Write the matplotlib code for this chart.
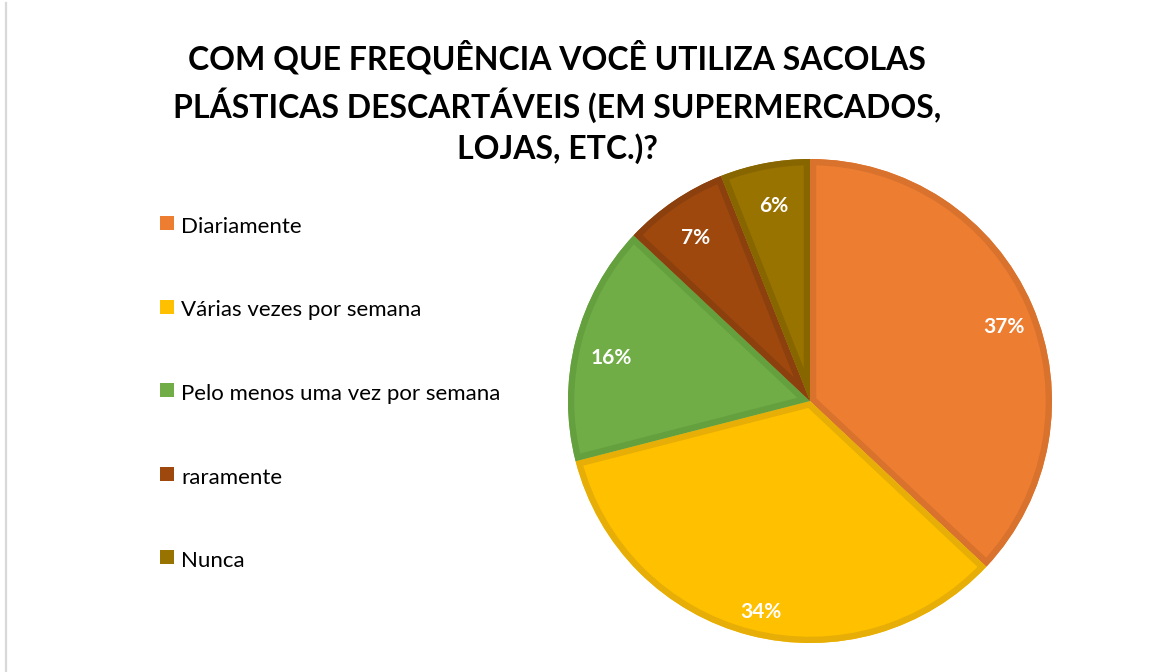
import matplotlib
matplotlib.use("Agg")
import matplotlib.pyplot as plt
from matplotlib.patches import Rectangle, PathPatch
from matplotlib.lines import Line2D
from matplotlib.transforms import offset_copy

categories = ["Diariamente", "Várias vezes por semana", "Pelo menos uma vez por semana",
              "raramente", "Nunca"]
values = [37, 34, 16, 7, 6]
colors = ["#ED7D31", "#FFC000", "#70AD47", "#9E480E", "#997300"]
edge_colors = ["#D8722D", "#E6AE06", "#64A03E", "#8C400D", "#876600"]
title = "COM QUE FREQUÊNCIA VOCÊ UTILIZA SACOLAS\nPLÁSTICAS DESCARTÁVEIS (EM SUPERMERCADOS,\nLOJAS, ETC.)?"

W, H = 1153, 672
fig = plt.figure(figsize=(W / 100, H / 100), dpi=100)
fig.patch.set_facecolor("white")

# left border line
fig.add_artist(Line2D([5.5 / W, 5.5 / W], [0, 1 - 3 / H], color="#D9D9D9", lw=1.6))

# title
fig.text(557 / W, 1 - 102 / H, title, ha="center", va="center", fontsize=23,
         fontweight="bold", family="Lato", linespacing=1.4, color="black")

# pie
cx, cy, r = 810, 401, 242
ax = fig.add_axes([(cx - r) / W, (H - cy - r) / H, 2 * r / W, 2 * r / H])
wedges, texts, autotexts = ax.pie(values, colors=colors, startangle=90, counterclock=False,
                                  autopct=lambda p: f"{p:.0f}%", pctdistance=0.86,
                                  radius=1.0,
                                  wedgeprops=dict(linewidth=0),
                                  textprops=dict(color="white", fontsize=15, fontweight="bold",
                                                 family="Lato", zorder=5))
for w, ec in zip(wedges, edge_colors):
    outline = PathPatch(w.get_path(), transform=w.get_transform(), facecolor="none",
                        edgecolor=ec, linewidth=9, zorder=3)
    ax.add_patch(outline)
    outline.set_clip_path(w)
for t in autotexts:
    t.set_transform(offset_copy(ax.transData, fig=fig, x=3, y=-9, units="dots"))
ax.set_xlim(-1, 1)
ax.set_ylim(-1, 1)
ax.set_aspect("equal")
ax.axis("off")

# legend
for i, (cat, col) in enumerate(zip(categories, colors)):
    y = 227 + i * 83.5
    fig.add_artist(Rectangle((160 / W, 1 - (y + 3) / H), 14 / W, 14 / H, facecolor=col,
                             edgecolor="none", transform=fig.transFigure))
    fig.text(181 / W, 1 - y / H, cat, ha="left", va="center", fontsize=16, family="Lato",
             color="black")

fig.savefig("out.png", dpi=100, facecolor="white")
